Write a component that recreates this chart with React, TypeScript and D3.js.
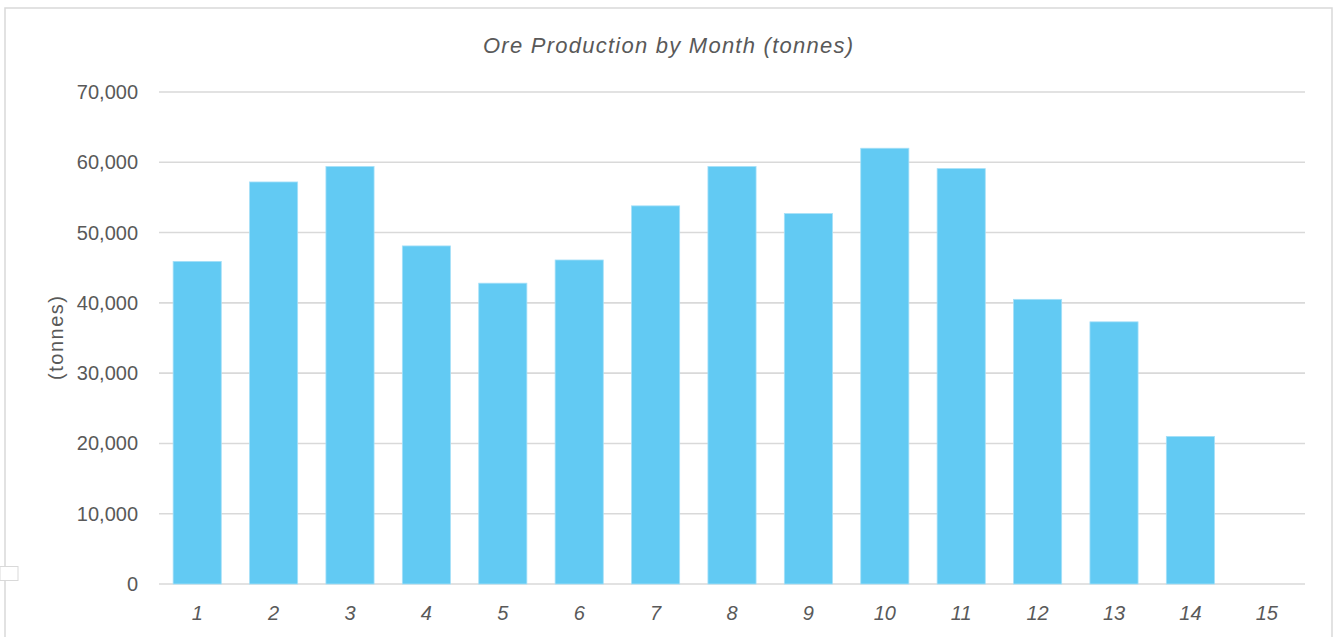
import React from "react";
import * as d3 from "d3";

const months = ["1", "2", "3", "4", "5", "6", "7", "8", "9", "10", "11", "12", "13", "14", "15"];
const tonnes = [45900, 57200, 59400, 48100, 42800, 46100, 53800, 59400, 52700, 62000, 59100, 40500, 37300, 21000, null];
const yTicks = [0, 10000, 20000, 30000, 40000, 50000, 60000, 70000];

const W = 1338;
const H = 637;
const plot = { left: 159, right: 1305, top: 92, bottom: 584 };
const textColor = "#595959";
const font = "'Liberation Sans', Arial, sans-serif";

export default function App() {
  const x = d3
    .scaleBand()
    .domain(months)
    .range([plot.left, plot.right])
    .paddingInner(0.37)
    .paddingOuter(0.185);
  const y = d3.scaleLinear().domain([0, 70000]).range([plot.bottom, plot.top]);
  const fmt = d3.format(",");

  return (
    <div style={{ position: "absolute", left: 0, top: 0 }}>
      <svg width={W} height={H} style={{ display: "block", background: "#fff" }}>
        {/* chart frame */}
        <path d={`M5,${H} V8 H1332 V${H}`} fill="none" stroke="#d9d9d9" strokeWidth={1.5} />
        <rect x={0} y={566.5} width={18} height={14} fill="#fff" stroke="#d9d9d9" strokeWidth={1} />

        <text
          x={668}
          y={53}
          textAnchor="middle"
          fontFamily={font}
          fontStyle="italic"
          fontSize={22}
          textLength={370}
          lengthAdjust="spacing"
          fill={textColor}
        >
          Ore Production by Month (tonnes)
        </text>

        {yTicks.map(t => (
          <g key={t}>
            <line x1={plot.left} x2={plot.right} y1={y(t)} y2={y(t)} stroke="#d9d9d9" strokeWidth={1.6} />
            <text
              x={138}
              y={y(t)}
              dy="0.35em"
              textAnchor="end"
              fontFamily={font}
              fontSize={20}
              fill={textColor}
            >
              {fmt(t)}
            </text>
          </g>
        ))}

        <text
          transform={`translate(56, 338) rotate(-90)`}
          textAnchor="middle"
          dy="0.35em"
          fontFamily={font}
          fontSize={20}
          textLength={84}
          lengthAdjust="spacing"
          fill={textColor}
        >
          (tonnes)
        </text>

        {months.map((m, i) => {
          const v = tonnes[i];
          if (v == null) return null;
          return (
            <rect
              key={m}
              x={x(m)}
              y={y(v)}
              width={x.bandwidth()}
              height={y(0) - y(v)}
              fill="#62caf3"
              stroke="#a6e0f8"
              strokeWidth={0.8}
            />
          );
        })}

        {months.map(m => (
          <text
            key={m}
            x={(x(m) || 0) + x.bandwidth() / 2}
            y={613}
            dy="0.35em"
            textAnchor="middle"
            fontFamily={font}
            fontStyle="italic"
            fontSize={20}
            fill={textColor}
          >
            {m}
          </text>
        ))}
      </svg>
    </div>
  );
}
